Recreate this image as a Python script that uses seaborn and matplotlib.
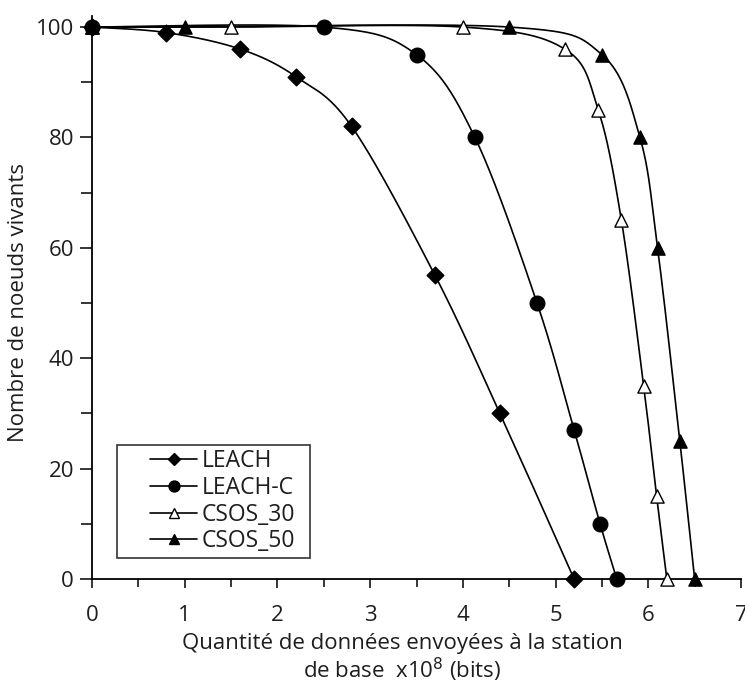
import numpy as np
import pandas as pd
import matplotlib
matplotlib.use("Agg")
import matplotlib.pyplot as plt
from matplotlib.ticker import MultipleLocator
from matplotlib.lines import Line2D
from matplotlib.legend_handler import HandlerLine2D
import seaborn as sns

# Data: amount of data sent to the base station (x1e8 bits) vs. alive nodes
leach_x = [0.0, 0.8, 1.6, 2.2, 2.8, 3.7, 4.4, 5.2]
leach_y = [100, 99, 96, 91, 82, 55, 30, 0]

leachc_x = [0.0, 2.5, 3.5, 4.13, 4.8, 5.2, 5.48, 5.66]
leachc_y = [100, 100, 95, 80, 50, 27, 10, 0]

csos30_x = [0.0, 1.5, 4.0, 5.1, 5.46, 5.71, 5.95, 6.09, 6.2]
csos30_y = [100, 100, 100, 96, 85, 65, 35, 15, 0]

csos50_x = [0.0, 1.0, 4.5, 5.5, 5.91, 6.1, 6.34, 6.5]
csos50_y = [100, 100, 100, 95, 80, 60, 25, 0]

series_names = ["LEACH", "LEACH-C", "CSOS_30", "CSOS_50"]
x_ticks = [0, 1, 2, 3, 4, 5, 6, 7]
y_ticks = [0, 20, 40, 60, 80, 100]

FONT = 16
TEXT_COLOR = "#1e1e1e"


def smooth(xs, ys, steps=40):
    """Cardinal (Catmull-Rom) Bezier smoothing through every data point."""
    p = np.column_stack([xs, ys]).astype(float)
    ext = np.vstack([p[0], p, p[-1]])
    t = np.linspace(0, 1, steps)[:, None]
    out = []
    for i in range(1, len(ext) - 2):
        p0, p1, p2, p3 = ext[i - 1], ext[i], ext[i + 1], ext[i + 2]
        c1 = p1 + (p2 - p0) / 6.0
        c2 = p2 - (p3 - p1) / 6.0
        seg = ((1 - t) ** 3) * p1 + 3 * ((1 - t) ** 2) * t * c1 \
            + 3 * (1 - t) * t ** 2 * c2 + t ** 3 * p2
        out.append(seg if i == 1 else seg[1:])
    s = np.vstack(out)
    return s[:, 0], s[:, 1]


class RightHandle(HandlerLine2D):
    """Legend handle drawn only over the right part of the handle box."""

    def __init__(self, frac=0.62, **kw):
        super().__init__(**kw)
        self.frac = frac

    def get_xdata(self, legend, xdescent, ydescent, width, height, fontsize):
        x1 = -xdescent + width
        x0 = x1 - width * self.frac
        xdata = np.array([x0, x1])
        return xdata, np.array([(x0 + x1) / 2])


sns.set_theme(style="white")
plt.rcParams["font.family"] = ["Open Sans", "DejaVu Sans"]

fig = plt.figure(figsize=(7.45, 6.84), dpi=100)
ax = fig.add_axes([92 / 745, 1 - 579 / 684, 649 / 745, (579 - 16) / 684])

series = [
    (leach_x, leach_y, "D", "black", 8.5),
    (leachc_x, leachc_y, "o", "black", 10.5),
    (csos30_x, csos30_y, "^", "white", 9.5),
    (csos50_x, csos50_y, "^", "black", 9.5),
]

handles = []
for name, (xs, ys, mk, fc, ms) in zip(series_names, series):
    sx, sy = smooth(xs, ys)
    curve = pd.DataFrame({"x": sx, "y": sy})
    sns.lineplot(data=curve, x="x", y="y", ax=ax, color="black",
                 linewidth=1.2, sort=False, estimator=None, zorder=2)
    pts = pd.DataFrame({"x": xs, "y": ys})
    sns.scatterplot(data=pts, x="x", y="y", ax=ax, marker=mk, s=ms ** 2,
                    facecolor=fc, edgecolor="black", linewidth=1.0,
                    clip_on=False, zorder=3)
    handles.append(Line2D([], [], color="black", linewidth=1.2, marker=mk,
                          markersize=ms * 0.75, markerfacecolor=fc,
                          markeredgecolor="black", label=name))

ax.set_xlim(0, 7)
ax.set_ylim(0, 102)
ax.set_xticks(x_ticks)
ax.set_yticks(y_ticks)
ax.xaxis.set_minor_locator(MultipleLocator(0.5))
ax.yaxis.set_minor_locator(MultipleLocator(10))

for side in ("top", "right"):
    ax.spines[side].set_visible(False)
for side in ("left", "bottom"):
    ax.spines[side].set_color("black")
    ax.spines[side].set_linewidth(1.3)

ax.tick_params(axis="both", which="both", direction="out", color="black",
               width=1.1, labelsize=FONT, labelcolor=TEXT_COLOR)
ax.tick_params(axis="y", which="major", length=9, pad=4)
ax.tick_params(axis="y", which="minor", length=8)
ax.tick_params(axis="x", which="major", length=6.5, pad=12)
ax.tick_params(axis="x", which="minor", length=5.5)
ax.tick_params(left=True, bottom=True, which="both")

ax.set_xlabel("Quantité de données envoyées à la station\nde base  x10$^8$ (bits)",
              fontsize=FONT, color=TEXT_COLOR, linespacing=1.08)
ax.xaxis.set_label_coords((402 - 92) / 649, -(633 - 579) / 563)
ax.set_ylabel("Nombre de noeuds vivants", fontsize=FONT, color=TEXT_COLOR)
ax.yaxis.set_label_coords((29 - 92) / 649, (579 - 302) / 563)

legend_box = ((117 - 92) / 649, (579 - 558) / 563,
              (310 - 117) / 649, (558 - 446) / 563)
leg = ax.legend(handles=handles, loc="lower left", bbox_to_anchor=legend_box,
                mode="expand", frameon=True, fancybox=False, fontsize=16.5,
                handlelength=3.3, handletextpad=0.2, labelspacing=0.12,
                borderpad=0.2, borderaxespad=0.0,
                handler_map={Line2D: RightHandle(frac=0.62)})
for txt in leg.get_texts():
    txt.set_color(TEXT_COLOR)
leg.get_frame().set_edgecolor("black")
leg.get_frame().set_linewidth(1.2)

fig.savefig("out.png", dpi=100, facecolor="white")
